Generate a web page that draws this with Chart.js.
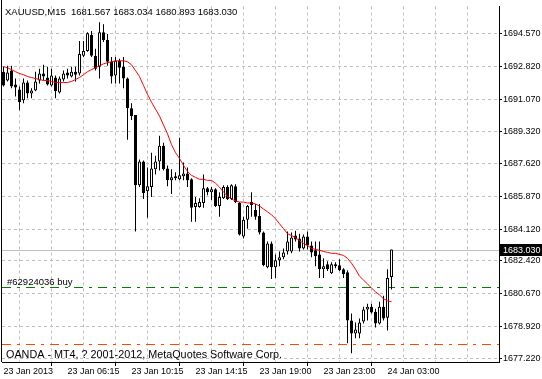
<!DOCTYPE html>
<html><head><meta charset="utf-8">
<script src="https://cdn.jsdelivr.net/npm/chart.js@4.4.1/dist/chart.umd.min.js"></script>
<style>html,body{margin:0;padding:0;background:#fff;overflow:hidden}canvas{display:block}</style>
</head><body>
<canvas id="c" width="542" height="379"></canvas>
<script>
const symbolName = 'XAUUSD,M15';
const opens = [
1692.54,1692.07,1692.60,1691.86,1691.59,1691.01,1691.96,1691.38,1691.54,1692.07,
1692.44,1692.23,1691.80,1692.23,1691.43,1692.12,1692.49,1692.28,1692.54,1692.44,
1693.39,1693.65,1694.50,1693.39,1692.81,1694.65,1694.23,1693.07,1692.33,1693.12,
1692.81,1692.17,1690.59,1690.22,1686.47,1687.74,1686.15,1686.37,1687.32,1687.74,
1688.58,1687.37,1686.73,1686.84,1686.79,1686.95,1687.10,1686.79,1685.31,1685.31,
1685.52,1686.31,1686.10,1686.26,1685.36,1685.78,1686.37,1685.73,1686.42,1685.52,
1683.73,1684.62,1685.57,1685.15,1684.83,1683.94,1682.09,1683.36,1682.09,1682.46,
1682.62,1682.93,1682.93,1683.78,1683.62,1683.09,1683.73,1683.25,1682.99,1682.77,
1681.98,1682.25,1681.77,1682.25,1682.19,1681.98,1681.82,1679.24,1678.55,1678.55,
1679.18,1679.82,1679.98,1679.71,1679.08,1679.98,1679.39,1681.567];
const highs = [
1692.81,1692.86,1692.86,1692.17,1691.75,1692.17,1692.07,1691.65,1692.54,1692.70,
1692.91,1692.81,1692.70,1692.33,1692.28,1692.60,1692.70,1692.81,1692.81,1694.18,
1694.18,1694.65,1694.71,1693.76,1695.18,1695.08,1694.55,1693.33,1693.33,1693.23,
1693.33,1692.23,1690.85,1690.22,1687.84,1687.79,1687.42,1688.21,1688.05,1689.11,
1688.74,1687.53,1687.32,1687.16,1689.01,1687.68,1687.42,1686.84,1685.84,1685.78,
1687.05,1686.37,1686.37,1686.31,1686.10,1686.47,1686.47,1686.52,1686.52,1685.57,
1684.78,1685.41,1686.10,1685.47,1685.47,1683.99,1683.46,1683.46,1682.77,1682.93,
1683.09,1683.99,1683.94,1684.04,1683.88,1683.83,1683.99,1683.46,1683.46,1683.46,
1682.56,1682.41,1682.35,1682.35,1682.51,1682.03,1681.93,1679.61,1679.13,1679.34,
1679.98,1680.13,1680.13,1679.87,1680.24,1680.56,1681.98,1683.034];
const lows = [
1691.75,1692.02,1691.65,1691.22,1690.48,1690.85,1691.12,1691.12,1691.49,1691.91,
1692.07,1691.80,1691.75,1691.12,1691.38,1692.02,1692.17,1692.23,1692.02,1692.33,
1693.33,1693.60,1693.33,1692.60,1692.17,1694.13,1692.86,1691.91,1691.91,1691.91,
1691.65,1688.90,1689.96,1683.99,1686.37,1685.73,1684.73,1685.84,1687.05,1687.26,
1687.26,1686.42,1686.00,1686.73,1686.73,1686.73,1686.37,1684.52,1684.52,1685.26,
1685.26,1685.94,1685.68,1685.31,1684.78,1685.73,1685.68,1685.68,1685.52,1683.78,
1683.62,1684.15,1684.78,1684.62,1683.83,1682.14,1682.03,1681.46,1681.51,1682.14,
1682.51,1682.77,1682.83,1683.46,1682.93,1683.04,1683.04,1682.62,1682.14,1681.51,
1681.51,1681.88,1681.72,1682.03,1681.88,1681.51,1678.02,1677.49,1678.29,1678.29,
1679.08,1679.24,1679.61,1678.87,1679.03,1679.24,1678.71,1680.893];
const closes = [
1691.80,1692.49,1691.75,1691.70,1690.91,1691.96,1691.38,1691.54,1692.02,1692.44,
1692.28,1691.86,1692.33,1691.49,1692.17,1692.44,1692.33,1692.54,1692.38,1693.49,
1693.65,1694.60,1693.39,1692.70,1694.65,1694.23,1693.07,1692.28,1693.12,1692.75,
1692.17,1690.59,1690.17,1686.47,1687.74,1686.05,1686.42,1687.37,1687.74,1688.58,
1687.32,1686.73,1686.89,1686.95,1687.00,1687.10,1686.73,1685.26,1685.52,1685.57,
1686.31,1686.10,1686.26,1685.36,1685.84,1686.37,1685.73,1686.47,1685.57,1683.83,
1684.62,1685.36,1685.41,1684.78,1683.94,1682.19,1683.36,1682.09,1682.46,1682.62,
1682.88,1683.46,1683.67,1683.57,1683.09,1683.73,1683.25,1682.88,1682.67,1681.98,
1682.14,1681.98,1682.25,1682.14,1681.93,1681.72,1679.24,1678.55,1678.76,1679.13,
1679.82,1679.98,1679.66,1679.08,1679.98,1679.34,1681.51,1683.030];
const maValues = [
1692.81,1692.75,1692.65,1692.54,1692.44,1692.38,1692.28,1692.23,1692.17,1692.12,
1692.07,1692.07,1692.02,1691.96,1691.96,1691.96,1691.96,1692.02,1692.12,1692.23,
1692.38,1692.54,1692.65,1692.75,1692.86,1692.96,1693.02,1693.07,1693.12,1693.12,
1693.12,1693.07,1692.91,1692.60,1692.28,1691.80,1691.33,1690.91,1690.54,1690.17,
1689.69,1689.22,1688.64,1688.21,1687.90,1687.53,1687.21,1687.00,1686.89,1686.79,
1686.79,1686.73,1686.73,1686.58,1686.37,1686.10,1685.89,1685.73,1685.63,1685.57,
1685.57,1685.52,1685.52,1685.47,1685.36,1685.20,1685.05,1684.89,1684.68,1684.41,
1684.15,1683.88,1683.78,1683.67,1683.51,1683.36,1683.25,1683.09,1683.04,1682.99,
1682.93,1682.88,1682.83,1682.83,1682.77,1682.72,1682.56,1682.30,1681.98,1681.61,
1681.40,1681.19,1680.98,1680.77,1680.61,1680.40,1680.29,1680.24];
const xTickBars = [0, 16, 32, 48, 64, 80, 96];
const xTickLabels = ['23 Jan 2013', '23 Jan 06:15', '23 Jan 10:15', '23 Jan 14:15', '23 Jan 19:00', '23 Jan 23:00', '24 Jan 03:00'];
const xGridBars = [0, 8, 16, 24, 32, 40, 48, 56, 64, 72, 80, 88, 96, 104, 112, 120];
const yTickValues = [1677.22, 1678.92, 1680.67, 1682.42, 1684.12, 1685.87, 1687.62, 1689.32, 1691.07, 1692.82, 1694.57];
const orderPrice = 1681.05;
const orderLabel = '#62924036 buy';
const stopPrice = 1677.97;
const copyrightText = 'OANDA - MT4, ? 2001-2012, MetaQuotes Software Corp.';

const FAMILY = '"Liberation Sans", Arial, sans-serif';
const axisFont = '9px ' + FAMILY;
const headerFont = '9.5px ' + FAMILY;
const copyFont = '10.8px ' + FAMILY;
Chart.defaults.font.family = FAMILY;
Chart.defaults.font.size = 9;
Chart.defaults.color = '#000';

const last = closes.length - 1;
const bodyData = opens.map((o, i) => ({x: i, y: [o, closes[i]]}));
const wickData = lows.map((l, i) => ({x: i, y: [l, highs[i]]}));
const maData = maValues.map((v, i) => ({x: i, y: v}));
const bodyColors = opens.map((o, i) => closes[i] >= o ? '#ffffff' : '#000000');

const extras = {
  id: 'extras',
  beforeDatasetsDraw(chart) {
    const {ctx, chartArea: a, scales: {y}} = chart;
    const hline = (price, color, dash) => {
      const py = Math.round(y.getPixelForValue(price)) + 0.5;
      ctx.save();
      ctx.strokeStyle = color; ctx.lineWidth = 1; ctx.setLineDash(dash);
      ctx.beginPath(); ctx.moveTo(a.left, py); ctx.lineTo(a.right, py); ctx.stroke();
      ctx.restore();
      return py;
    };
    hline(closes[last], '#c0c0c0', []);
    const oy = hline(orderPrice, '#008000', [9, 6, 3, 6]);
    hline(stopPrice, '#ff4500', [9, 6, 3, 6]);
    ctx.save();
    ctx.font = headerFont; ctx.fillStyle = '#000'; ctx.textBaseline = 'alphabetic'; ctx.textAlign = 'left';
    ctx.fillText(orderLabel, 7, oy - 3);
    ctx.restore();
  },
  afterDraw(chart) {
    const {ctx, chartArea: a, scales: {y}} = chart;
    ctx.save();
    ctx.strokeStyle = '#000'; ctx.lineWidth = 1;
    ctx.beginPath(); ctx.moveTo(1.5, 0); ctx.lineTo(1.5, a.bottom); ctx.stroke();
    ctx.fillStyle = '#000'; ctx.textAlign = 'left'; ctx.textBaseline = 'alphabetic';
    ctx.font = headerFont;
    const hdr = symbolName + '  ' + [opens[last], highs[last], lows[last], closes[last]].map(v => v.toFixed(3)).join(' ');
    ctx.fillText(hdr, 5, 15);
    ctx.font = copyFont;
    ctx.fillText(copyrightText, 6, 358);
    ctx.font = axisFont;
    const py = Math.round(y.getPixelForValue(closes[last]));
    ctx.fillStyle = '#000';
    ctx.fillRect(a.right + 1, py - 6, 542 - a.right - 1, 12);
    ctx.fillStyle = '#fff'; ctx.textBaseline = 'middle';
    ctx.fillText(closes[last].toFixed(3), a.right + 4, py + 0.5);
    ctx.restore();
  }
};

new Chart(document.getElementById('c'), {
  type: 'bar',
  data: {
    datasets: [
      {type: 'line', data: maData, borderColor: '#ff0000', borderWidth: 1, pointRadius: 0, tension: 0, fill: false},
      {type: 'bar', data: bodyData, backgroundColor: bodyColors, borderColor: '#000', borderWidth: 1,
       borderSkipped: false, barThickness: 3, minBarLength: 1, grouped: false, inflateAmount: 0},
      {type: 'bar', data: wickData, backgroundColor: '#000', borderWidth: 0, barThickness: 1,
       minBarLength: 1, grouped: false, inflateAmount: 0}
    ]
  },
  options: {
    responsive: false, devicePixelRatio: 1, animation: false,
    layout: {padding: {left: 2, top: 2, right: 0, bottom: 0}},
    plugins: {legend: {display: false}, tooltip: {enabled: false}},
    scales: {
      x: {
        type: 'linear', min: -0.375, max: 123.875, offset: false, position: 'bottom',
        afterBuildTicks: s => { s.ticks = xGridBars.map(v => ({value: v})); },
        afterFit: s => { s.height = 17; },
        grid: {
          color: c => (c.tick && c.tick.value === 0) ? 'rgba(0,0,0,0)' : '#c0c0c0',
          tickColor: c => (c.tick && xTickBars.includes(c.tick.value)) ? '#000' : 'rgba(0,0,0,0)',
          tickLength: 4, tickBorderDash: [], lineWidth: 1
        },
        border: {display: true, color: '#000', width: 1, dash: [3, 3]},
        ticks: {
          align: 'start', autoSkip: false, maxRotation: 0, minRotation: 0, padding: 0, color: '#000',
          callback: v => { const k = xTickBars.indexOf(v); return k >= 0 ? xTickLabels[k] : ''; }
        }
      },
      y: {
        type: 'linear', position: 'right', min: 1677.02, max: 1696.03,
        afterBuildTicks: s => { s.ticks = yTickValues.map(v => ({value: v})); },
        afterFit: s => { s.width = 43; },
        grid: {color: '#c0c0c0', tickColor: '#000', tickLength: 3, tickBorderDash: [], lineWidth: 1},
        border: {display: true, color: '#000', width: 1, dash: [3, 3]},
        ticks: {padding: 1, color: '#000', autoSkip: false, callback: v => Number(v).toFixed(3)}
      }
    }
  },
  plugins: [extras]
});
</script>
</body></html>
